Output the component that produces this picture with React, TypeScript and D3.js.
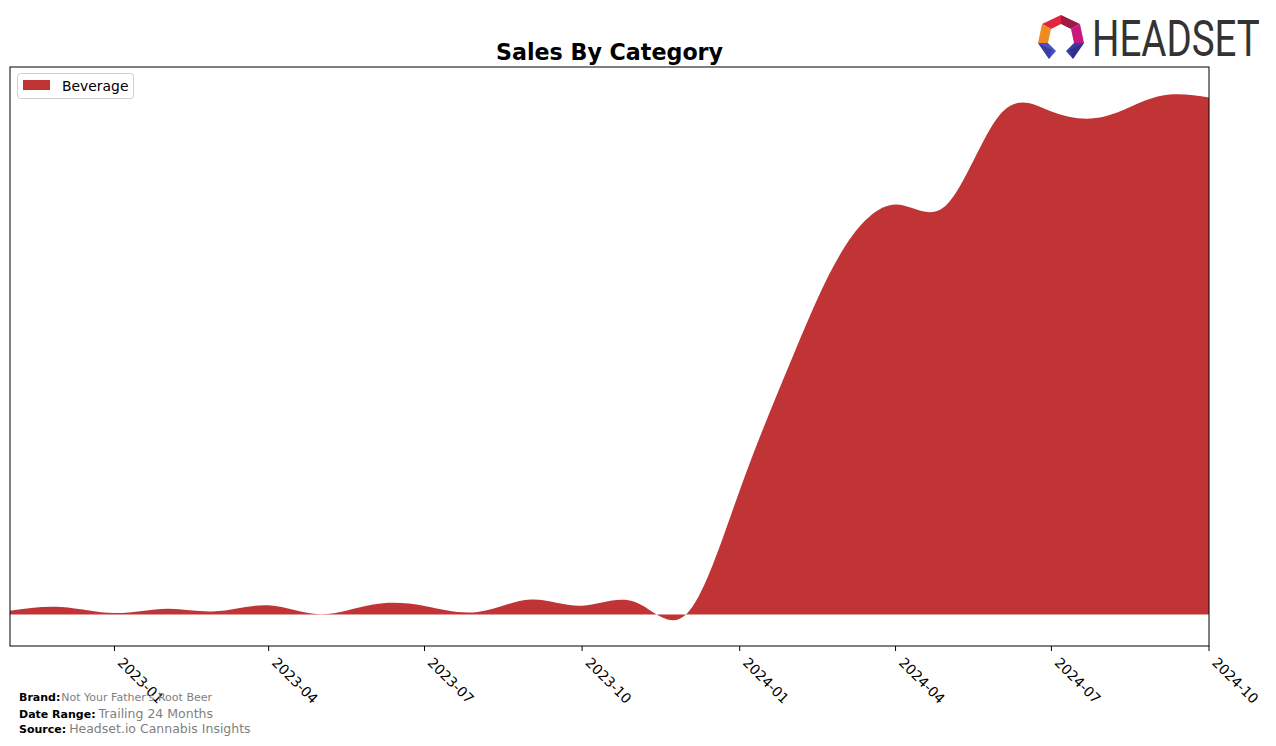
import React from "react";
import * as d3 from "d3";

const months: string[] = [
  "2022-11", "2022-12", "2023-01", "2023-02", "2023-03", "2023-04",
  "2023-05", "2023-06", "2023-07", "2023-08", "2023-09", "2023-10",
  "2023-11", "2023-12", "2024-01", "2024-02", "2024-03", "2024-04",
  "2024-05", "2024-06", "2024-07", "2024-08", "2024-09", "2024-10",
];
const beverage: number[] = [
  3.8, 7.5, 1.5, 5.8, 3.2, 9.2,
  0.2, 10, 8.5, 2.5, 15, 8.8,
  12.5, 0.5, 124, 258, 364, 410,
  410, 500, 503, 498, 518, 517,
];
const tickLabels: string[] = [
  "2023-01", "2023-04", "2023-07", "2023-10",
  "2024-01", "2024-04", "2024-07", "2024-10",
];
const seriesName = "Beverage";
const yDomain: [number, number] = [-31.5, 547.5];

const W = 1276;
const H = 746;
const L = 10, R = 1209, T = 67, B = 646;
const COLOR = "#c13435";
const FONT = "'DejaVu Sans', sans-serif";

const parse = d3.timeParse("%Y-%m");

export default function App() {
  const x = d3.scaleTime()
    .domain([parse(months[0])!, parse(months[months.length - 1])!])
    .range([L, R]);
  const y = d3.scaleLinear().domain(yDomain).range([B, T]);
  const data = months.map((m, i) => ({ d: parse(m)!, v: beverage[i] }));
  const area = d3.area<{ d: Date; v: number }>()
    .x((p) => x(p.d))
    .y0(y(0))
    .y1((p) => y(p.v))
    .curve(d3.curveNatural);

  const tickFs = 13.9;
  const asc = tickFs * 0.76;
  const desc = tickFs * 0.24;

  return (
    <svg width={W} height={H} style={{ position: "absolute", left: 0, top: 0 }}
      fontFamily={FONT}>
      <rect x={0} y={0} width={W} height={H} fill="#fff" />
      <defs>
        <clipPath id="plotclip">
          <rect x={L} y={T} width={R - L} height={B - T} />
        </clipPath>
      </defs>
      <text x={(L + R) / 2} y={60} textAnchor="middle" fontSize={22.2}
        fontWeight="bold" fill="#000">Sales By Category</text>

      <path d={area(data) ?? ""} fill={COLOR} clipPath="url(#plotclip)" />

      <rect x={L} y={T} width={R - L} height={B - T} fill="none"
        stroke="#000" strokeWidth={1} />

      {tickLabels.map((t) => {
        const tx = x(parse(t)!);
        const ox = tx + 0.707 * desc;
        const oy = B + 10 + 0.707 * asc;
        return (
          <g key={t}>
            <line x1={tx} x2={tx} y1={B} y2={B + 5} stroke="#000" strokeWidth={1} />
            <text x={ox} y={oy} fontSize={tickFs} fill="#000"
              transform={`rotate(45 ${ox} ${oy})`}>{t}</text>
          </g>
        );
      })}

      {/* legend */}
      <rect x={17.5} y={73.5} width={116} height={25} rx={3} fill="#fff"
        stroke="#d0d0d0" strokeWidth={1} />
      <rect x={23} y={80} width={27} height={10} fill={COLOR} />
      <text x={62} y={91} fontSize={13.9} fill="#000">{seriesName}</text>

      {/* footer */}
      <text x={19} y={701} fontSize={11} fill="#000">
        <tspan fontWeight="bold">Brand:</tspan>
        <tspan fill="#808080" dx={1}>Not Your Father's Root Beer</tspan>
      </text>
      <text x={19} y={718} fontSize={11} fill="#000">
        <tspan fontWeight="bold">Date Range:</tspan>
        <tspan fill="#808080" fontSize={12.5} dx={3}>Trailing 24 Months</tspan>
      </text>
      <text x={19} y={733} fontSize={11} fill="#000">
        <tspan fontWeight="bold">Source:</tspan>
        <tspan fill="#808080" fontSize={12.5} dx={3}>Headset.io Cannabis Insights</tspan>
      </text>

      {/* logo */}
      <g>
        <polygon points="1042,24 1061,15 1061,24 1051,29" fill="#e0263c" />
        <polygon points="1061,15 1080,24 1071,29 1061,24" fill="#a01848" />
        <polygon points="1080,24 1084,43 1074,43 1071,29" fill="#c8177f" />
        <polygon points="1042,24 1051,29 1048,43 1038,43" fill="#f08a24" />
        <polygon points="1038,43 1048,43 1056,51 1049,59" fill="#4b50c4" />
        <polygon points="1038,43 1049,59 1052,50" fill="#2e3190" opacity={0.6} />
        <polygon points="1084,43 1074,43 1066,51 1073,59" fill="#3a3aa6" />
        <polygon points="1084,43 1073,59 1070,50" fill="#22236e" opacity={0.5} />
        <text x={0} y={0} fontFamily="Roboto, 'Open Sans', sans-serif"
          fontSize={50} fill="#333" transform="translate(1092 56) scale(0.77 1)">HEADSET</text>
      </g>
    </svg>
  );
}
